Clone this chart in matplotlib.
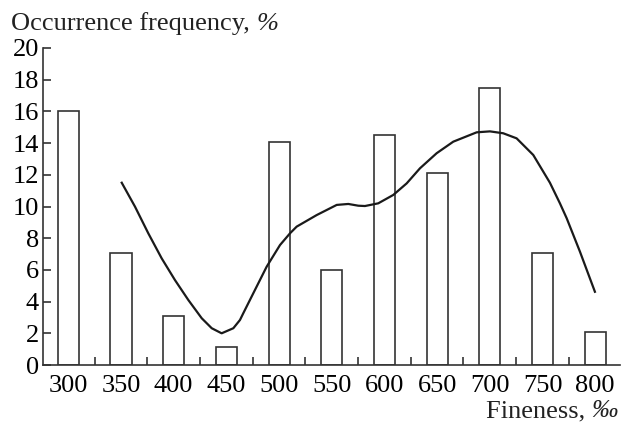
import matplotlib
matplotlib.use('Agg')
import matplotlib.pyplot as plt

# Données
finesse = [300, 350, 400, 450, 500, 550, 600, 650, 700, 750, 800]
frequence = [16.0, 7.05, 3.07, 1.15, 14.1, 6.0, 14.5, 12.1, 17.5, 7.05, 2.1]

# Courbe lissée (points relevés le long du tracé)
courbe_x = [350.7, 363.3, 375.9, 388.6, 401.2, 413.9, 426.6, 436.1, 445.5, 456.6,
            462.9, 466.0, 475.5, 488.2, 500.9, 510.4, 516.7, 535.7, 554.7, 565.7,
            575.2, 581.5, 594.1, 608.4, 621.1, 633.7, 649.5, 665.3, 681.1, 687.5,
            700.1, 712.7, 725.4, 741.2, 757.0, 766.5, 772.9, 785.5, 799.7]
courbe_y = [11.5, 9.99, 8.31, 6.73, 5.36, 4.10, 2.95, 2.32, 2.0, 2.32,
            2.84, 3.26, 4.52, 6.2, 7.57, 8.31, 8.73, 9.46, 10.1, 10.16,
            10.05, 10.03, 10.2, 10.73, 11.46, 12.41, 13.36, 14.09, 14.51, 14.68,
            14.74, 14.62, 14.30, 13.25, 11.5, 10.2, 9.26, 7.15, 4.62]

mineurs = [325, 375, 425, 475, 525, 575, 625, 675, 725, 775]

plt.rcParams['font.family'] = ['Liberation Serif', 'DejaVu Serif']

fig = plt.figure(figsize=(6.23, 4.24), dpi=100)
ax = fig.add_axes([43/623, 59/424, 577/623, 317/424])

ax.bar(finesse, frequence, width=20, facecolor='white', edgecolor='#333333', linewidth=1.2)
ax.plot(courbe_x, courbe_y, color='#1a1a1a', linewidth=1.6, solid_joinstyle='round')

ax.set_xlim(276, 823.5)
ax.set_ylim(0, 20)
ax.spines['top'].set_visible(False)
ax.spines['right'].set_visible(False)
for s in ['left', 'bottom']:
    ax.spines[s].set_linewidth(1.2)
    ax.spines[s].set_color('#333333')

ax.set_xticks(finesse)
ax.set_xticks(mineurs, minor=True)
ax.set_yticks(range(0, 21, 2))
ax.tick_params(axis='x', which='major', length=0, pad=7, labelsize=19)
ax.tick_params(axis='x', which='minor', direction='in', length=6, width=1.2, color='#333333')
ax.tick_params(axis='y', direction='in', length=6, width=1.2, pad=3, labelsize=19, color='#333333')

# Titres des axes, avec le signe de pourcentage en italique
renderer = fig.canvas.get_renderer()
t1 = fig.text(11/623, 1 - 30/424, 'Occurrence frequency, ', fontsize=19,
              ha='left', va='baseline', color='#222222')
bb = t1.get_window_extent(renderer).transformed(fig.transFigure.inverted())
fig.text(bb.x1, 1 - 30/424, '%', fontsize=19, style='italic',
         ha='left', va='baseline', color='#222222')

t2 = fig.text(618/623, 1 - 417/424, '‰', fontsize=19, style='italic',
              ha='right', va='baseline', color='#222222')
bb = t2.get_window_extent(renderer).transformed(fig.transFigure.inverted())
fig.text(bb.x0, 1 - 417/424, 'Fineness, ', fontsize=19,
         ha='right', va='baseline', color='#222222')

fig.savefig('out.png', dpi=100)
